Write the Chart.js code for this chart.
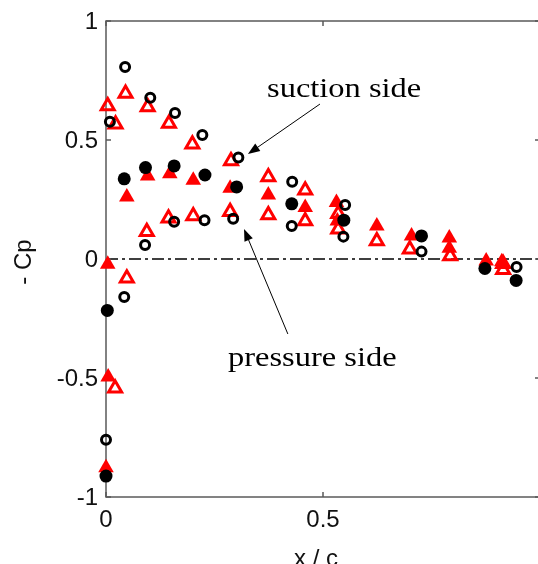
<!DOCTYPE html>
<html>
<head>
<meta charset="utf-8">
<script src="https://cdn.jsdelivr.net/npm/chart.js@4"></script>
<style>
  html, body { margin: 0; padding: 0; background: #fff; overflow: hidden; }
  #wrap { position: absolute; left: 0; top: 0; }
</style>
</head>
<body>
<div id="wrap"><canvas id="cp" width="560" height="564"></canvas></div>
<script>
// axis ticks (the label at x = 1 falls off the cropped figure)
const xTicks = [0, 0.5, 1];
const xTickLabels = ['0', '0.5', ''];
const yTicks = [-1, -0.5, 0, 0.5, 1];
const yTickLabels = ['-1', '-0.5', '0', '0.5', '1'];

// black open circles (both sides)
const ringX = [0.044, 0.009, 0.102, 0.159, 0.222, 0.305, 0.429, 0.551, 0.727, 0.946,
               0.000, 0.042, 0.090, 0.157, 0.227, 0.293, 0.428, 0.547];
const ringY = [0.807, 0.577, 0.678, 0.613, 0.521, 0.426, 0.325, 0.227, 0.031, -0.034,
               -0.759, -0.160, 0.059, 0.157, 0.163, 0.169, 0.139, 0.094];

// black filled circles
const dotX = [0.000, 0.003, 0.042, 0.091, 0.157, 0.228, 0.301, 0.428, 0.548, 0.727, 0.873, 0.945];
const dotY = [-0.912, -0.216, 0.337, 0.384, 0.391, 0.353, 0.303, 0.232, 0.163, 0.097, -0.040, -0.090];

// red open triangles
const triOpenX = [0.004, 0.022, 0.045, 0.096, 0.145, 0.199, 0.288, 0.374, 0.459, 0.535, 0.624, 0.700, 0.793, 0.915,
                  0.021, 0.048, 0.094, 0.144, 0.201, 0.286, 0.374, 0.459, 0.535, 0.915];
const triOpenY = [0.643, 0.566, 0.695, 0.639, 0.569, 0.482, 0.412, 0.345, 0.289, 0.190, 0.076, 0.041, 0.013, -0.020,
                  -0.543, -0.081, 0.115, 0.171, 0.181, 0.199, 0.185, 0.160, 0.125, -0.045];

// red filled triangles
const triFillX = [0.000, 0.005, 0.004, 0.048, 0.096, 0.147, 0.201, 0.286, 0.374, 0.459, 0.531, 0.533,
                  0.624, 0.704, 0.791, 0.791, 0.876, 0.912];
const triFillY = [-0.877, -0.496, -0.022, 0.261, 0.349, 0.358, 0.331, 0.297, 0.269, 0.216, 0.237, 0.160,
                  0.139, 0.097, 0.088, 0.045, -0.008, -0.012];

const toPoints = (xs, ys) => xs.map((x, i) => ({ x: x, y: ys[i] }));

// Draw an arrow with a filled head at (x2, y2)
function drawArrow(ctx, x1, y1, x2, y2) {
    const ang = Math.atan2(y2 - y1, x2 - x1);
    const len = 12, half = 4.5;
    ctx.beginPath();
    ctx.moveTo(x1, y1);
    ctx.lineTo(x2 - Math.cos(ang) * len * 0.8, y2 - Math.sin(ang) * len * 0.8);
    ctx.stroke();
    ctx.beginPath();
    ctx.moveTo(x2, y2);
    ctx.lineTo(x2 - Math.cos(ang) * len - Math.sin(ang) * half, y2 - Math.sin(ang) * len + Math.cos(ang) * half);
    ctx.lineTo(x2 - Math.cos(ang) * len + Math.sin(ang) * half, y2 - Math.sin(ang) * len - Math.cos(ang) * half);
    ctx.closePath();
    ctx.fill();
}

// Stretched serif note, like the original figure text
function drawNote(ctx, text, x, y) {
    ctx.save();
    ctx.translate(x, y);
    ctx.scale(1.16, 1);
    ctx.font = '28px "Liberation Serif", "Times New Roman", serif';
    ctx.textAlign = 'left';
    ctx.textBaseline = 'alphabetic';
    ctx.fillStyle = '#000';
    ctx.fillText(text, 0, 0);
    ctx.restore();
}

const frame = {
    id: 'frame',
    beforeDatasetsDraw(chart) {
        const { ctx, chartArea: a, scales: { x, y } } = chart;
        ctx.save();
        // zero line
        ctx.strokeStyle = '#000';
        ctx.lineWidth = 1.4;
        ctx.setLineDash([12, 4, 3, 4]);
        ctx.beginPath();
        ctx.moveTo(a.left, y.getPixelForValue(0));
        ctx.lineTo(a.right, y.getPixelForValue(0));
        ctx.stroke();
        ctx.setLineDash([]);

        // box
        ctx.strokeStyle = '#5a5a5a';
        ctx.lineWidth = 1.5;
        ctx.strokeRect(a.left, a.top, a.right - a.left, a.bottom - a.top);

        // inward ticks
        ctx.beginPath();
        xTicks.forEach(v => {
            const px = x.getPixelForValue(v);
            ctx.moveTo(px, a.bottom); ctx.lineTo(px, a.bottom - 5);
            ctx.moveTo(px, a.top); ctx.lineTo(px, a.top + 5);
        });
        yTicks.forEach(v => {
            const py = y.getPixelForValue(v);
            ctx.moveTo(a.left, py); ctx.lineTo(a.left + 5, py);
            ctx.moveTo(a.right, py); ctx.lineTo(a.right - 5, py);
        });
        ctx.stroke();

        // tick labels
        ctx.fillStyle = '#111';
        ctx.font = '24px "Liberation Sans", Arial, sans-serif';
        ctx.textAlign = 'center';
        ctx.textBaseline = 'alphabetic';
        xTicks.forEach((v, i) => {
            ctx.fillText(xTickLabels[i], x.getPixelForValue(v), a.bottom + 30);
        });
        ctx.textAlign = 'right';
        ctx.textBaseline = 'middle';
        yTicks.forEach((v, i) => {
            ctx.fillText(yTickLabels[i], a.left - 8, y.getPixelForValue(v) + 1);
        });

        // axis titles
        ctx.textAlign = 'center';
        ctx.textBaseline = 'alphabetic';
        ctx.fillText('x / c', 316, 566);
        ctx.save();
        ctx.translate(31, 262);
        ctx.rotate(-Math.PI / 2);
        ctx.fillText('- Cp', 0, 0);
        ctx.restore();
        ctx.restore();
    },
    afterDatasetsDraw(chart) {
        const { ctx, scales: { x, y } } = chart;
        ctx.save();
        ctx.strokeStyle = '#000';
        ctx.fillStyle = '#000';
        ctx.lineWidth = 1;
        drawArrow(ctx, x.getPixelForValue(0.493), y.getPixelForValue(0.651),
                       x.getPixelForValue(0.327), y.getPixelForValue(0.441));
        drawArrow(ctx, x.getPixelForValue(0.419), y.getPixelForValue(-0.315),
                       x.getPixelForValue(0.318), y.getPixelForValue(0.126));
        drawNote(ctx, 'suction side', x.getPixelForValue(0.371), y.getPixelForValue(0.68));
        drawNote(ctx, 'pressure side', x.getPixelForValue(0.281), y.getPixelForValue(-0.45));
        ctx.restore();
    }
};

new Chart(document.getElementById('cp'), {
    type: 'scatter',
    data: {
        datasets: [
            {
                label: 'ring',
                data: toPoints(ringX, ringY),
                pointStyle: 'circle',
                pointRadius: 4.5,
                pointBorderWidth: 3,
                pointBorderColor: '#000',
                pointBackgroundColor: 'rgba(0,0,0,0)',
                order: 1,
                clip: false
            },
            {
                label: 'dot',
                data: toPoints(dotX, dotY),
                pointStyle: 'circle',
                pointRadius: 6.5,
                pointBorderWidth: 0,
                pointBackgroundColor: '#000',
                order: 1,
                clip: false
            },
            {
                label: 'triOpen',
                data: toPoints(triOpenX, triOpenY),
                pointStyle: 'triangle',
                pointRadius: 7.5,
                pointBorderWidth: 3,
                pointBorderColor: '#ff0000',
                pointBackgroundColor: 'rgba(0,0,0,0)',
                order: 2,
                clip: false
            },
            {
                label: 'triFill',
                data: toPoints(triFillX, triFillY),
                pointStyle: 'triangle',
                pointRadius: 9,
                pointBorderWidth: 0,
                pointBackgroundColor: '#ff0000',
                order: 2,
                clip: false
            }
        ]
    },
    options: {
        responsive: false,
        animation: false,
        events: [],
        layout: { padding: { left: 0, top: 21, right: 20, bottom: 0 } },
        plugins: { legend: { display: false }, tooltip: { enabled: false } },
        scales: {
            x: {
                type: 'linear', min: 0, max: 1,
                ticks: { display: false },
                grid: { display: false },
                border: { display: false },
                afterFit: s => { s.height = 67; }
            },
            y: {
                type: 'linear', min: -1, max: 1,
                ticks: { display: false },
                grid: { display: false },
                border: { display: false },
                afterFit: s => { s.width = 106; }
            }
        }
    },
    plugins: [frame]
});
</script>
</body>
</html>
